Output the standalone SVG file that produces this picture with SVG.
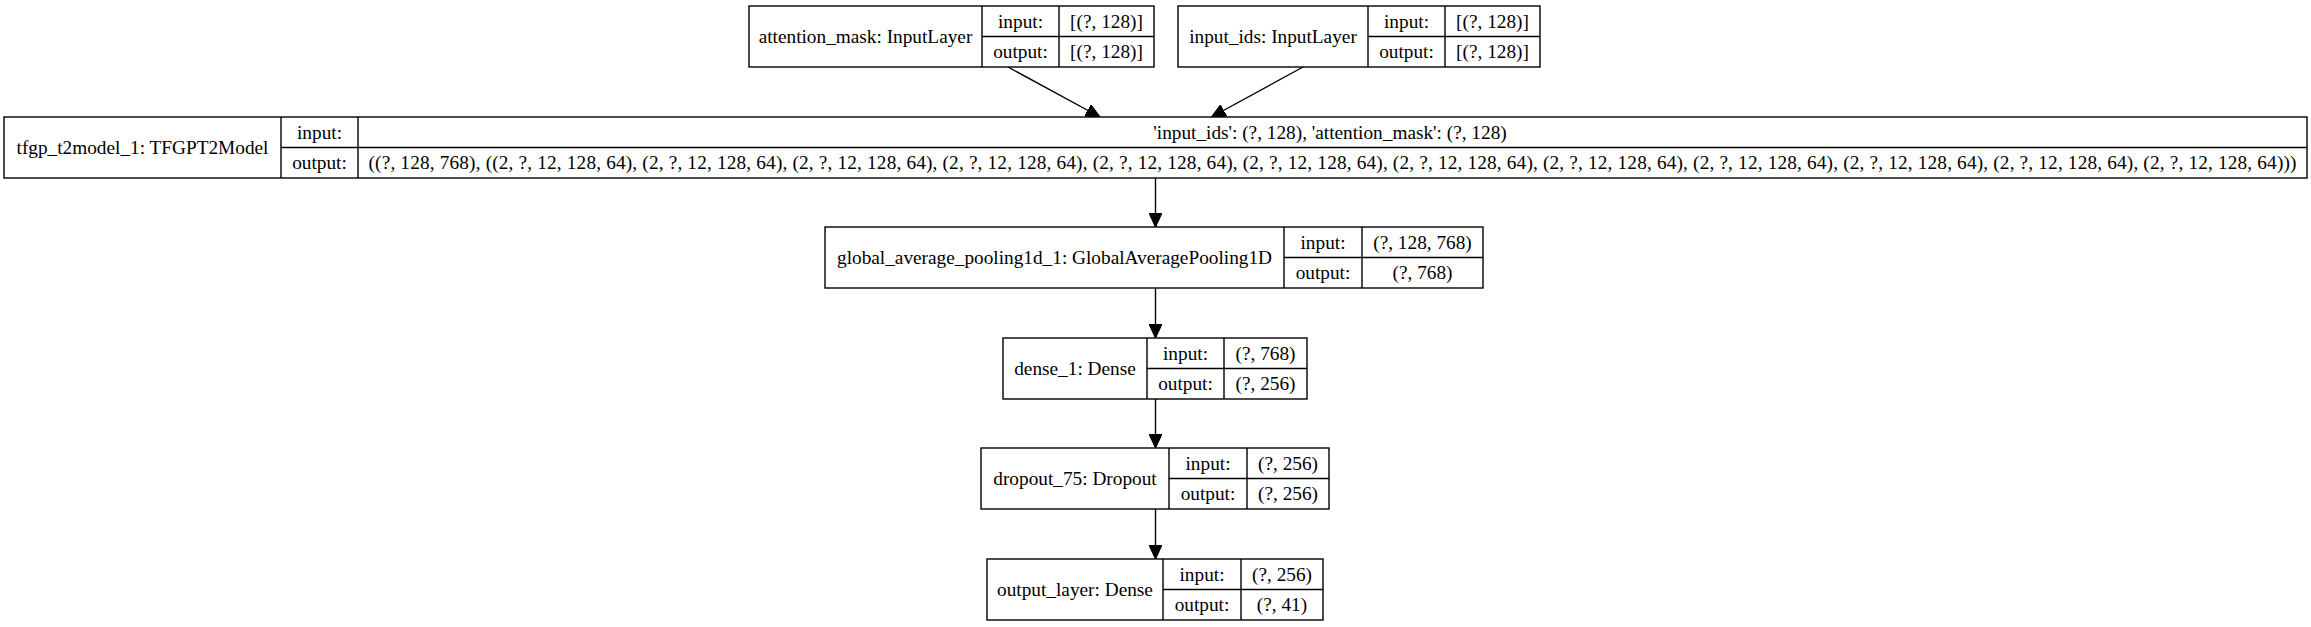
<svg xmlns="http://www.w3.org/2000/svg" width="2311" height="627" viewBox="0 0 2311 627">
<style>
  .box { fill: #ffffff; stroke: #000000; stroke-width: 1.4; }
  .sep { stroke: #000000; stroke-width: 1.4; fill: none; }
  .t { font-family: "Liberation Serif", "Times New Roman", serif; font-size: 19.3px; fill: #000000; text-anchor: middle; }
  .edge { stroke: #000000; stroke-width: 1.4; fill: none; marker-end: url(#arr); }
</style>
<defs>
  <marker id="arr" markerUnits="userSpaceOnUse" markerWidth="14" markerHeight="13" viewBox="0 0 13 12" refX="13" refY="6" orient="auto">
    <path d="M0,0 L13,6 L0,12 z" fill="#000000" stroke="#000000" stroke-width="1"/>
  </marker>
</defs>
<rect width="2311" height="627" fill="#ffffff"/>

<g id="connectors">
  <line class="edge" x1="1008" y1="67" x2="1100" y2="117"/>
  <line class="edge" x1="1303" y1="67" x2="1211.5" y2="117"/>
  <line class="edge" x1="1155.5" y1="178" x2="1155.5" y2="227"/>
  <line class="edge" x1="1155.5" y1="288" x2="1155.5" y2="338"/>
  <line class="edge" x1="1155.5" y1="399" x2="1155.5" y2="448"/>
  <line class="edge" x1="1155.5" y1="509" x2="1155.5" y2="559"/>
</g>

<g id="attention_mask">
  <rect class="box" x="749" y="6" width="405" height="61"/>
  <line class="sep" x1="982" y1="6" x2="982" y2="67"/>
  <line class="sep" x1="1059" y1="6" x2="1059" y2="67"/>
  <line class="sep" x1="982" y1="36.5" x2="1154" y2="36.5"/>
  <text class="t" x="865.5" y="42.5">attention_mask: InputLayer</text>
  <text class="t" x="1020.5" y="27.5">input:</text>
  <text class="t" x="1020.5" y="58">output:</text>
  <text class="t" x="1106.5" y="27.5">[(?, 128)]</text>
  <text class="t" x="1106.5" y="58">[(?, 128)]</text>
</g>

<g id="input_ids">
  <rect class="box" x="1178" y="6" width="362" height="61"/>
  <line class="sep" x1="1368" y1="6" x2="1368" y2="67"/>
  <line class="sep" x1="1445" y1="6" x2="1445" y2="67"/>
  <line class="sep" x1="1368" y1="36.5" x2="1540" y2="36.5"/>
  <text class="t" x="1273" y="42.5">input_ids: InputLayer</text>
  <text class="t" x="1406.5" y="27.5">input:</text>
  <text class="t" x="1406.5" y="58">output:</text>
  <text class="t" x="1492.5" y="27.5">[(?, 128)]</text>
  <text class="t" x="1492.5" y="58">[(?, 128)]</text>
</g>

<g id="tfgp_t2model_1">
  <rect class="box" x="4" y="117" width="2303" height="61"/>
  <line class="sep" x1="281" y1="117" x2="281" y2="178"/>
  <line class="sep" x1="358" y1="117" x2="358" y2="178"/>
  <line class="sep" x1="281" y1="147.5" x2="2307" y2="147.5"/>
  <text class="t" x="142.5" y="153.5">tfgp_t2model_1: TFGPT2Model</text>
  <text class="t" x="319.5" y="138.5">input:</text>
  <text class="t" x="319.5" y="169">output:</text>
  <text class="t" x="1330" y="138.5">'input_ids': (?, 128), 'attention_mask': (?, 128)</text>
  <text class="t" x="1332.5" y="169" textLength="1928" lengthAdjust="spacing">((?, 128, 768), ((2, ?, 12, 128, 64), (2, ?, 12, 128, 64), (2, ?, 12, 128, 64), (2, ?, 12, 128, 64), (2, ?, 12, 128, 64), (2, ?, 12, 128, 64), (2, ?, 12, 128, 64), (2, ?, 12, 128, 64), (2, ?, 12, 128, 64), (2, ?, 12, 128, 64), (2, ?, 12, 128, 64), (2, ?, 12, 128, 64)))</text>
</g>

<g id="global_average_pooling1d_1">
  <rect class="box" x="825" y="227" width="658" height="61"/>
  <line class="sep" x1="1284" y1="227" x2="1284" y2="288"/>
  <line class="sep" x1="1362" y1="227" x2="1362" y2="288"/>
  <line class="sep" x1="1284" y1="257.5" x2="1483" y2="257.5"/>
  <text class="t" x="1054.5" y="263.5">global_average_pooling1d_1: GlobalAveragePooling1D</text>
  <text class="t" x="1323" y="248.5">input:</text>
  <text class="t" x="1323" y="279">output:</text>
  <text class="t" x="1422.5" y="248.5">(?, 128, 768)</text>
  <text class="t" x="1422.5" y="279">(?, 768)</text>
</g>

<g id="dense_1">
  <rect class="box" x="1003" y="338" width="304" height="61"/>
  <line class="sep" x1="1147" y1="338" x2="1147" y2="399"/>
  <line class="sep" x1="1224" y1="338" x2="1224" y2="399"/>
  <line class="sep" x1="1147" y1="368.5" x2="1307" y2="368.5"/>
  <text class="t" x="1075" y="374.5">dense_1: Dense</text>
  <text class="t" x="1185.5" y="359.5">input:</text>
  <text class="t" x="1185.5" y="390">output:</text>
  <text class="t" x="1265.5" y="359.5">(?, 768)</text>
  <text class="t" x="1265.5" y="390">(?, 256)</text>
</g>

<g id="dropout_75">
  <rect class="box" x="981" y="448" width="348" height="61"/>
  <line class="sep" x1="1169" y1="448" x2="1169" y2="509"/>
  <line class="sep" x1="1247" y1="448" x2="1247" y2="509"/>
  <line class="sep" x1="1169" y1="478.5" x2="1329" y2="478.5"/>
  <text class="t" x="1075" y="484.5">dropout_75: Dropout</text>
  <text class="t" x="1208" y="469.5">input:</text>
  <text class="t" x="1208" y="500">output:</text>
  <text class="t" x="1288" y="469.5">(?, 256)</text>
  <text class="t" x="1288" y="500">(?, 256)</text>
</g>

<g id="output_layer">
  <rect class="box" x="987" y="559" width="336" height="61"/>
  <line class="sep" x1="1163" y1="559" x2="1163" y2="620"/>
  <line class="sep" x1="1241" y1="559" x2="1241" y2="620"/>
  <line class="sep" x1="1163" y1="589.5" x2="1323" y2="589.5"/>
  <text class="t" x="1075" y="595.5">output_layer: Dense</text>
  <text class="t" x="1202" y="580.5">input:</text>
  <text class="t" x="1202" y="611">output:</text>
  <text class="t" x="1282" y="580.5">(?, 256)</text>
  <text class="t" x="1282" y="611">(?, 41)</text>
</g>
</svg>
